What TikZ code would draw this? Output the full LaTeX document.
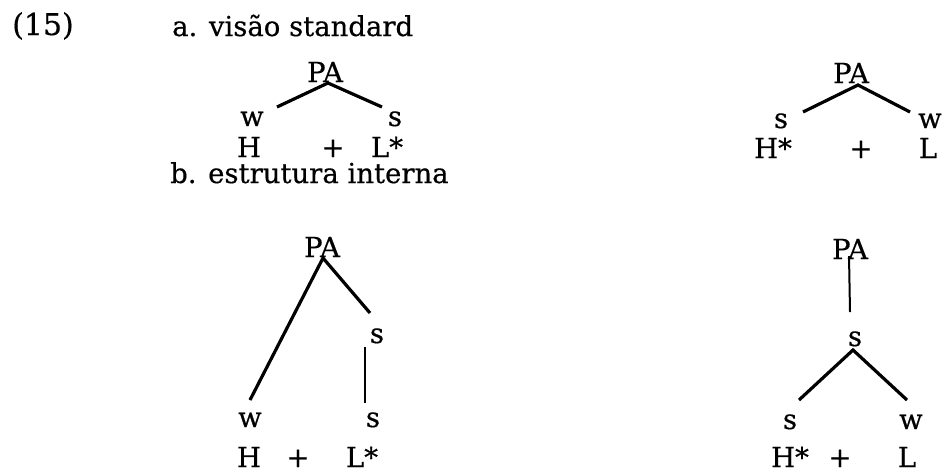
\documentclass[tikz,border=0pt]{standalone}
\usepackage{fontspec}
\setmainfont[FakeBold=0.5]{DejaVu Serif}
\usetikzlibrary{calc}
\begin{document}
\begin{tikzpicture}[x=1pt,y=-1pt,
  hd/.style={inner sep=0pt,anchor=base west,font=\fontsize{27.5}{33}\selectfont},
  lbl/.style={inner sep=0pt,anchor=base,font=\fontsize{27.5}{33}\selectfont},
  br/.style={line width=3.2pt},
  thinbr/.style={line width=2pt}]
\useasboundingbox[fill=white] (0,0) rectangle (944,475);
% headings
\node[hd,font=\fontsize{30}{36}\selectfont] (ex) at (12,35) {(15)};
\node[hd] (ha) at (172,36) {a. visão standard};
\node[hd] (hb) at (170,183) {b. estrutura interna};
% tree a left
\node[lbl] (aLpa) at (325,82) {PA};
\node[lbl] (aLw) at (252,126) {w};
\node[lbl] (aLs) at (395,126) {s};
\node[lbl] (aLH) at (249,157) {H};
\node[lbl] (aLp) at (333,157) {+};
\node[lbl] (aLL) at (387,157) {L*};
\coordinate (aLtop) at ($(aLpa.base)+(3,1)$);
\coordinate (aLe1) at ($(aLw.base)+(25,-19)$);
\coordinate (aLe2) at ($(aLs.base)+(-13,-19)$);
\draw[br] (aLe1) -- (aLtop) -- (aLe2);
% tree a right
\node[lbl] (aRpa) at (851,83) {PA};
\node[lbl] (aRs) at (781,128) {s};
\node[lbl] (aRw) at (930,128) {w};
\node[lbl] (aRH) at (773,158) {H*};
\node[lbl] (aRp) at (861,158) {+};
\node[lbl] (aRL) at (928,158) {L};
\coordinate (aRtop) at ($(aRpa.base)+(7,2)$);
\coordinate (aRe1) at ($(aRs.base)+(22,-16)$);
\coordinate (aRe2) at ($(aRw.base)+(-20,-16)$);
\draw[br] (aRe1) -- (aRtop) -- (aRe2);
% tree b left
\node[lbl] (bLpa) at (322,257) {PA};
\node[lbl] (bLs1) at (377,343) {s};
\node[lbl] (bLw) at (250,427) {w};
\node[lbl] (bLs2) at (373,427) {s};
\node[lbl] (bLH) at (249,467) {H};
\node[lbl] (bLp) at (298,467) {+};
\node[lbl] (bLL) at (362,467) {L*};
\coordinate (bLtop) at ($(bLpa.base)+(1,1)$);
\coordinate (bLe1) at ($(bLw.base)+(0,-27)$);
\coordinate (bLe2) at ($(bLs1.base)+(-7,-30)$);
\draw[br] (bLe1) -- (bLtop) -- (bLe2);
\coordinate (bLv1) at ($(bLs1.base)+(-12,4)$);
\coordinate (bLv2) at ($(bLs2.base)+(-8,-24)$);
\draw[thinbr] (bLv1) -- (bLv2);
% tree b right
\node[lbl] (bRpa) at (850,259) {PA};
\node[lbl] (bRs1) at (855,346) {s};
\node[lbl] (bRs2) at (790,429) {s};
\node[lbl] (bRw) at (911,429) {w};
\node[lbl] (bRH) at (790,467) {H*};
\node[lbl] (bRp) at (840,467) {+};
\node[lbl] (bRL) at (907,467) {L};
\coordinate (bRv1) at ($(bRpa.base)+(-1,-3)$);
\coordinate (bRv2) at ($(bRs1.base)+(-5,-34)$);
\draw[thinbr] (bRv1) -- (bRv2);
\coordinate (bRmid) at ($(bRs1.base)+(-2,4)$);
\coordinate (bRe1) at ($(bRs2.base)+(9,-29)$);
\coordinate (bRe2) at ($(bRw.base)+(-4,-29)$);
\draw[br] (bRe1) -- (bRmid) -- (bRe2);
\end{tikzpicture}
\end{document}
